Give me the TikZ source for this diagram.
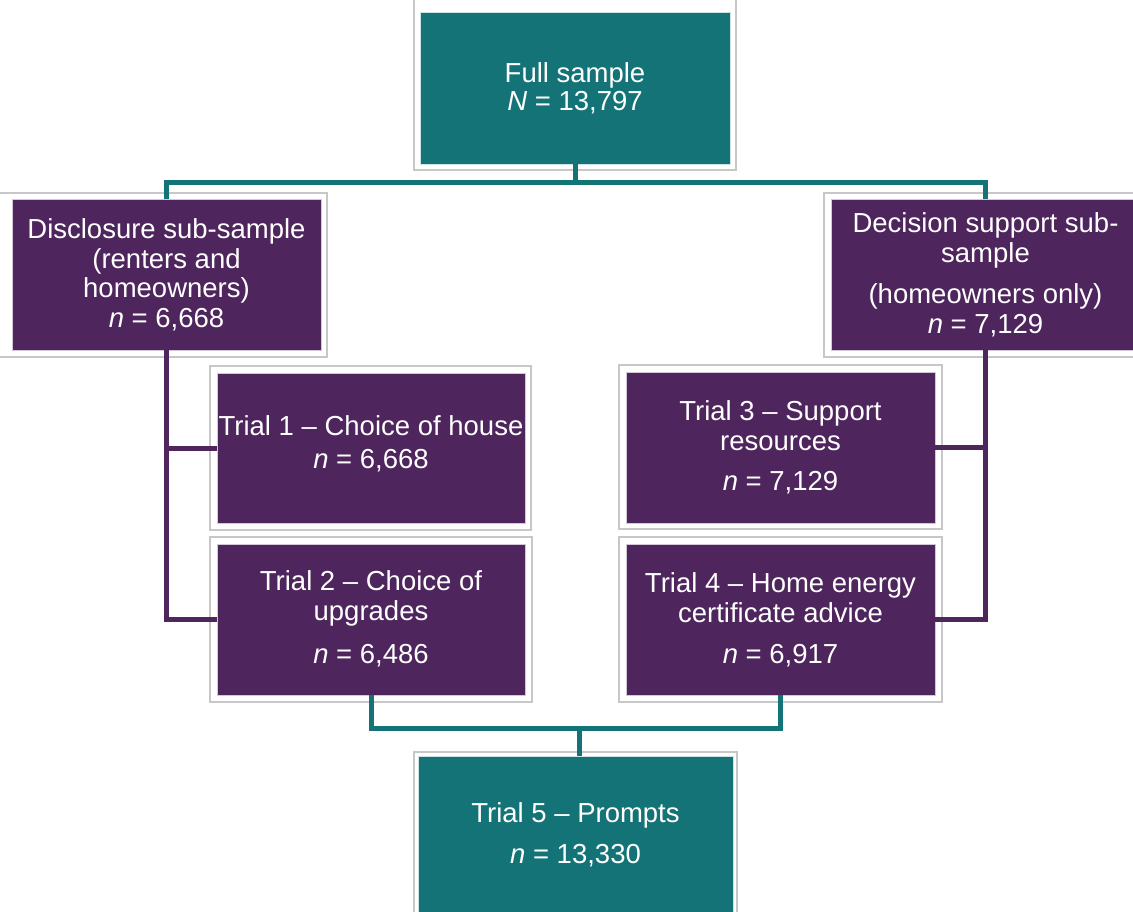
\documentclass[tikz,border=0pt]{standalone}
\usepackage{fontspec}
\setmainfont{Liberation Sans}
\begin{document}
\begin{tikzpicture}[x=1pt,y=-1pt,
  frame/.style={draw=black!22,line width=1.2pt,fill=white},
  tealbox/.style={fill=tealc,draw=white!80!tealc,line width=0.8pt},
  purpbox/.style={fill=purpc,draw=white!75!purpc,line width=0.8pt},
  txt/.style={text=white,align=center,font=\fontsize{27.5}{29.5}\selectfont,inner sep=0pt},
  tline/.style={draw=tealc,line width=5pt},
  pline/.style={draw=purpc,line width=5pt}]
\definecolor{tealc}{RGB}{19,115,118}
\definecolor{purpc}{RGB}{78,37,92}
\useasboundingbox (0,0) rectangle (1133,911);
\coordinate (tj) at (577,182);
\coordinate (bj) at (579,728);
% frames
\draw[frame] (414,-3) rectangle (736,170) node[midway,inner sep=0pt] (fullF) {};
\draw[frame] (-2,193) rectangle (327,357) node[midway,inner sep=0pt] (discF) {};
\draw[frame] (824,193) rectangle (1150,357) node[midway,inner sep=0pt] (decF) {};
\draw[frame] (210,366) rectangle (531,530) node[midway,inner sep=0pt] (t1F) {};
\draw[frame] (210,537) rectangle (532,702) node[midway,inner sep=0pt] (t2F) {};
\draw[frame] (619,365) rectangle (942,529) node[midway,inner sep=0pt] (t3F) {};
\draw[frame] (619,537) rectangle (942,702) node[midway,inner sep=0pt] (t4F) {};
\draw[frame] (414,752) rectangle (737,925) node[midway,inner sep=0pt] (t5F) {};
% inner boxes
\node[tealbox,inner sep=0pt,minimum width=310pt,minimum height=152pt] (full) at (575,88) {};
\node[purpbox,inner sep=0pt,minimum width=309pt,minimum height=151pt] (disc) at (166.5,274.5) {};
\node[purpbox,inner sep=0pt,minimum width=309pt,minimum height=151pt] (dec) at (985.5,274.5) {};
\node[purpbox,inner sep=0pt,minimum width=308pt,minimum height=150pt] (t1) at (371,448) {};
\node[purpbox,inner sep=0pt,minimum width=308pt,minimum height=151pt] (t2) at (371,619.5) {};
\node[purpbox,inner sep=0pt,minimum width=309pt,minimum height=151pt] (t3) at (780.5,447.5) {};
\node[purpbox,inner sep=0pt,minimum width=309pt,minimum height=151pt] (t4) at (780.5,619.5) {};
\node[tealbox,inner sep=0pt,minimum width=315pt,minimum height=170pt] (t5) at (575.5,841) {};
% teal connectors
\draw[tline] (fullF.south) -- (fullF.south |- tj);
\draw[tline] (disc.north) -- (disc.north |- tj) -- (dec.north |- tj) -- (dec.north);
\draw[tline] (t2.south) -- (t2.south |- bj) -- (t4.south |- bj) -- (t4.south);
\draw[tline] (t5.north -| bj) -- (bj);
% purple connectors
\draw[pline] (discF.south -| disc.center) -- (disc.center |- t2.west) -- (t2.west);
\draw[pline] (disc.center |- t1.west) -- (t1.west);
\draw[pline] (decF.south -| dec.center) -- (dec.center |- t4.east) -- (t4.east);
\draw[pline] (dec.center |- t3.east) -- (t3.east);
% texts (anchor=base is the baseline of the last line)
\node[txt,anchor=base] (fullT1) at (575,82) {Full sample};
\node[txt,anchor=base] (fullT2) at (575,110) {\textit{N} = 13,797};
\node[txt,anchor=base] (discT) at (166.5,327) {Disclosure sub-sample\\(renters and\\homeowners)\\\textit{n} = 6,668};
\node[txt,anchor=base] (decT1) at (985.5,262) {Decision support sub-\\sample};
\node[txt,anchor=base] (decT2) at (985.5,333) {(homeowners only)\\\textit{n} = 7,129};
\node[txt,anchor=base] (t1T1) at (371,435) {Trial 1 – Choice of house};
\node[txt,anchor=base] (t1T2) at (371,468) {\textit{n} = 6,668};
\node[txt,anchor=base] (t2T1) at (371,620) {Trial 2 – Choice of\\upgrades};
\node[txt,anchor=base] (t2T2) at (371,663) {\textit{n} = 6,486};
\node[txt,anchor=base] (t3T1) at (780.5,450) {Trial 3 – Support\\resources};
\node[txt,anchor=base] (t3T2) at (780.5,490) {\textit{n} = 7,129};
\node[txt,anchor=base] (t4T1) at (780.5,622) {Trial 4 – Home energy\\certificate advice};
\node[txt,anchor=base] (t4T2) at (780.5,663) {\textit{n} = 6,917};
\node[txt,anchor=base] (t5T1) at (575.5,822) {Trial 5 – Prompts};
\node[txt,anchor=base] (t5T2) at (575.5,863) {\textit{n} = 13,330};
\end{tikzpicture}
\end{document}
